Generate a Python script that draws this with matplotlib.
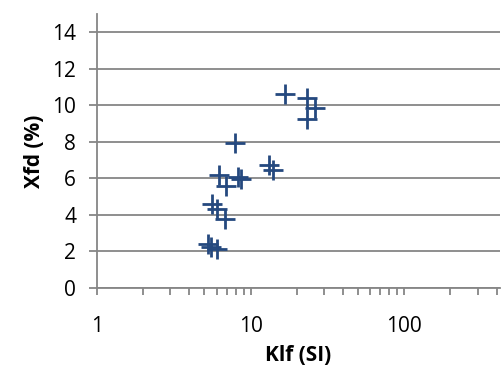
import numpy as np
from matplotlib import pyplot as plt
from matplotlib.ticker import LogLocator, NullFormatter, FixedLocator

# Klf (SI) vs Xfd (%)
klf = [16.8, 23.2, 26.3, 23.2, 7.9, 13.1, 13.9, 6.2, 6.9, 8.3, 8.7,
       5.6, 6.0, 6.8, 5.3, 5.5, 6.0]
xfd = [10.6, 10.4, 9.85, 9.25, 7.95, 6.75, 6.45, 6.2, 5.6, 6.1, 5.95,
       4.6, 4.3, 3.8, 2.4, 2.25, 2.15]

y_ticks = [0, 2, 4, 6, 8, 10, 12, 14]
x_ticks = [1, 10, 100]
x_tick_labels = ['1', '10', '100']

plt.rcParams['font.family'] = ['Open Sans', 'DejaVu Sans']
grey = '#868686'

fig = plt.figure(figsize=(5.01, 3.78), dpi=100)
ax = fig.add_axes([0.1936, 0.238, 0.8044, 0.725])

ax.plot(klf, xfd, linestyle='none', marker='+', markersize=14,
        markeredgewidth=2.0, color='#25497F')

ax.set_xscale('log')
ax.set_xlim(1, 420)
ax.set_ylim(0, 15)

ax.xaxis.set_major_locator(FixedLocator(x_ticks))
ax.set_xticklabels(x_tick_labels)
ax.xaxis.set_minor_locator(LogLocator(base=10, subs=np.arange(2, 10)))
ax.xaxis.set_minor_formatter(NullFormatter())
ax.set_yticks(y_ticks)

ax.grid(axis='y', color=grey, linewidth=1.3)
ax.set_axisbelow(True)

for side in ['top', 'right']:
    ax.spines[side].set_visible(False)
for side in ['left', 'bottom']:
    ax.spines[side].set_color(grey)
    ax.spines[side].set_linewidth(1.3)

ax.tick_params(axis='x', which='both', direction='out', length=5, width=1.3,
               color=grey, pad=15, labelsize=15)
ax.tick_params(axis='y', which='major', direction='out', length=6, width=1.3,
               color=grey, pad=9, labelsize=15)

ax.set_xlabel('Klf (SI)', fontsize=15, fontweight='bold', labelpad=6)
ax.set_ylabel('Xfd (%)', fontsize=15, fontweight='bold', labelpad=5)

plt.savefig('out.png', dpi=100)
